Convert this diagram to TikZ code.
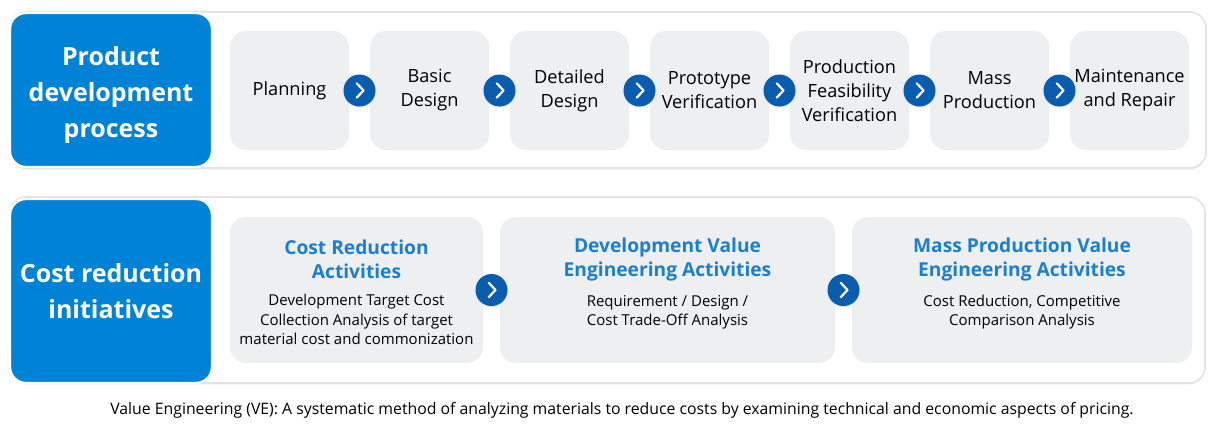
\documentclass[tikz,border=0pt]{standalone}
\usepackage{fontspec}
\setmainfont{Open Sans}
\usetikzlibrary{positioning,calc,shadows}
\definecolor{headblue}{HTML}{0083D6}
\definecolor{dotblue}{HTML}{0A5CAF}
\definecolor{stepgray}{HTML}{EEEFF1}
\definecolor{titleblue}{HTML}{1B7FD1}
\definecolor{rimgray}{HTML}{E2E3E6}
\tikzset{
	panel/.style={draw=rimgray, line width=.8pt, fill=white, rounded corners=8pt,
		drop shadow={opacity=.12, shadow xshift=0pt, shadow yshift=-.8pt}},
	headbox/.style={draw=white, line width=1.2pt, fill=headblue, rounded corners=8pt,
		minimum width=101pt, text=white, font=\bfseries\fontsize{12.5}{18}\selectfont,
		align=center, drop shadow={opacity=.15, shadow xshift=.6pt, shadow yshift=-.6pt}},
	stepbox/.style={fill=stepgray, rounded corners=8pt, minimum width=59.5pt,
		minimum height=59.5pt, inner sep=0pt, outer sep=0pt, align=center,
		font=\fontsize{9.1}{12}\selectfont},
	actbox/.style={fill=stepgray, rounded corners=8pt, minimum height=73pt, inner sep=0pt,
		outer sep=0pt},
	acttitle/.style={text=titleblue, align=center, inner sep=0pt,
		font=\bfseries\fontsize{9.6}{12}\selectfont},
	acttext/.style={align=center, inner sep=0pt, anchor=north,
		font=\fontsize{7.5}{9.6}\selectfont},
	dot/.style={circle, fill=dotblue, minimum size=16pt, inner sep=0pt,
		drop shadow={opacity=.18, shadow xshift=0pt, shadow yshift=-.6pt}},
	chev/.style={draw=white, line width=1.1pt, line cap=round, line join=round},
}
\newcommand{\chevron}[1]{%
	\draw[chev] ([xshift=-1.4pt,yshift=3.6pt]#1.center) -- ++(3.4pt,-3.6pt) -- ++(-3.4pt,-3.6pt);}
\begin{document}
\begin{tikzpicture}[x=.5pt,y=-.5pt]
	\useasboundingbox (0,0) rectangle (1221,428);
	% upper band
	\draw[panel] (10,12) rectangle (1206,168);
	\node[headbox, minimum height=77pt, text height=49pt, text depth=2pt] (pdp) at (111,90)
		{Product\\development\\process};
	\node[stepbox] (s1) at (289.5,90.5) {Planning};
	\foreach \txt [count=\i from 2, remember=\i as \j (initially 1)] in
		{{Basic\\Design}, {Detailed\\Design}, {Prototype\\Verification},
		{Production\\Feasibility\\Verification}, {Mass\\Production}, {Maintenance\\and Repair}}
		\node[stepbox, right=10.5pt of s\j] (s\i) {\txt};
	\foreach \i [count=\k from 2] in {1,...,6} {
		\node[dot] (d\i) at ($(s\i.east)!.5!(s\k.west)$) {};
		\chevron{d\i}
	}
	% lower band
	\draw[panel] (10,197) rectangle (1205,383);
	\node[headbox, minimum height=92pt] (cri) at (111,291) {Cost reduction\\initiatives};
	\node[actbox, minimum width=126.5pt] (a1) at (356.5,290) {};
	\node[actbox, minimum width=167.5pt] (a2) at (667.5,290) {};
	\node[actbox, minimum width=170pt] (a3) at (1022,290) {};
	\node[acttitle] (t1) at (356.5,259) {Cost Reduction\\Activities};
	\node[acttitle] (t2) at (667.5,260) {Development Value\\Engineering Activities};
	\node[acttitle] (t3) at (1022,260) {Mass Production Value\\Engineering Activities};
	\node[acttext] (b1) at (356.5,294) {Development Target Cost\\Collection Analysis of target\\material cost and commonization};
	\node[acttext] (b2) at (667.5,295) {Requirement / Design /\\Cost Trade-Off Analysis};
	\node[acttext] (b3) at (1022,295) {Cost Reduction, Competitive\\Comparison Analysis};
	\node[dot] (e1) at ($(a1.east)!.5!(a2.west)$) {};
	\node[dot] (e2) at ($(a2.east)!.5!(a3.west)$) {};
	\chevron{e1}
	\chevron{e2}
	% note
	\node[font=\fontsize{7.9}{9}\selectfont, inner sep=0pt] (note) at (622,410)
		{Value Engineering (VE): A systematic method of analyzing materials to reduce costs by examining technical and economic aspects of pricing.};
\end{tikzpicture}
\end{document}
